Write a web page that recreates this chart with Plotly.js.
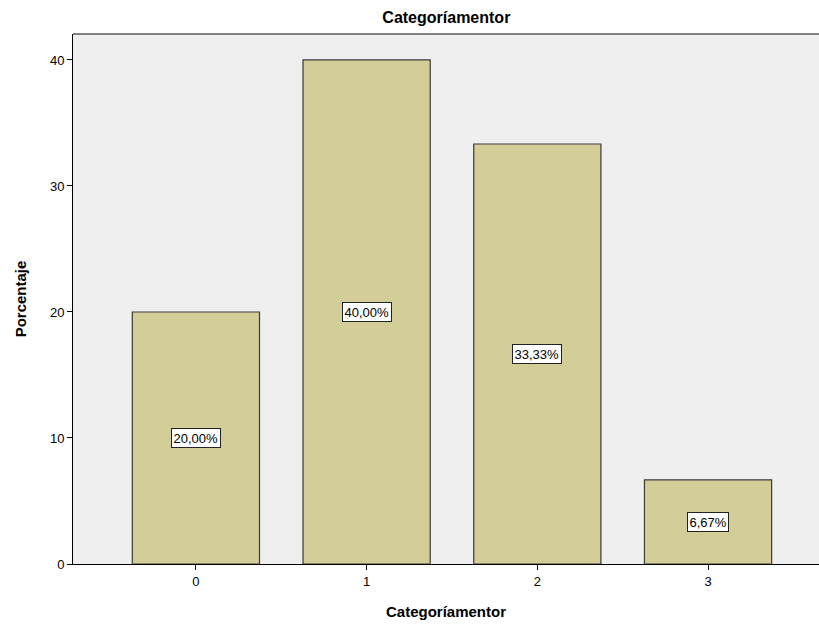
<!DOCTYPE html>
<html><head><meta charset="utf-8">
<script src="https://cdn.plot.ly/plotly-3.0.1.min.js"></script>
<style>body{margin:0;padding:0;background:#fff}#chart{width:819px;height:628px}</style>
</head><body><div id="chart"></div>
<script>
const categories = ['0','1','2','3'];
const percentages = [20.00, 40.00, 33.33, 6.67];
const labels = ['20,00%','40,00%','33,33%','6,67%'];
const yTicks = [0,10,20,30,40];

const trace = {
  type:'bar', x:[0,1,2,3], y:percentages, width:0.745,
  marker:{color:'#D3CE98', line:{color:'#3a3a3a', width:1.2}},
  hoverinfo:'none'
};
const annotations = percentages.map((v,i)=>({
  x:i, y:v/2, xref:'x', yref:'y', text:labels[i], showarrow:false,
  bgcolor:'#ffffff', bordercolor:'#222', borderwidth:1, borderpad:1.5,
  font:{family:'Arial, Liberation Sans, sans-serif', size:13, color:'#000'}
}));
const layout = {
  width:819, height:628,
  margin:{l:73, r:0, t:34, b:64},
  paper_bgcolor:'#ffffff', plot_bgcolor:'#EFEFEF',
  showlegend:false,
  title:{text:'<b>Categoríamentor</b>', x:0.545, xanchor:'center', y:0.973, yanchor:'middle',
    font:{family:'Arial, Liberation Sans, sans-serif', size:16, color:'#000'}},
  xaxis:{range:[-0.72,3.65], tickvals:[0,1,2,3], ticktext:categories,
    ticks:'outside', ticklen:5, tickcolor:'#000', showgrid:false, zeroline:false,
    showline:true, linecolor:'#000', linewidth:1,
    tickfont:{family:'Arial, Liberation Sans, sans-serif', size:13, color:'#000'},
    title:{text:'<b>Categoríamentor</b>', standoff:18,
      font:{family:'Arial, Liberation Sans, sans-serif', size:15, color:'#000'}}},
  yaxis:{range:[0,42.06], tickvals:yTicks, ticks:'outside', ticklen:5, tickcolor:'#000',
    showgrid:false, zeroline:false, showline:true, linecolor:'#000', linewidth:1,
    tickfont:{family:'Arial, Liberation Sans, sans-serif', size:13, color:'#000'},
    title:{text:'<b>Porcentaje</b>', standoff:19,
      font:{family:'Arial, Liberation Sans, sans-serif', size:15, color:'#000'}}},
  shapes:[{type:'line', xref:'paper', yref:'paper', x0:0, x1:1, y0:1, y1:1,
    line:{color:'#808080', width:2}}],
  annotations:annotations
};
Plotly.newPlot('chart',[trace],layout,{displayModeBar:false,staticPlot:true});
</script></body></html>
